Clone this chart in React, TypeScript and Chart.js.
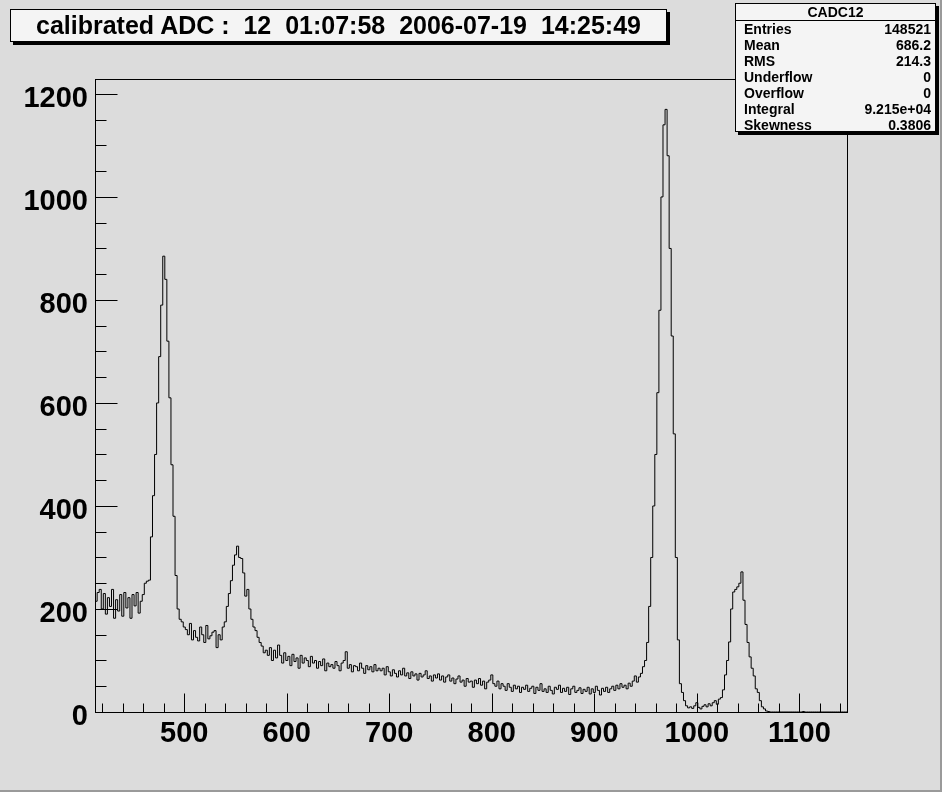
import React, { useEffect, useRef } from 'react';
import { Chart, registerables } from 'chart.js';

Chart.register(...registerables);

// ---- histogram binning (ADC channel) ----
const BIN_START = 413;
const BIN_WIDTH = 2;

// ---- bin contents (segments from low to high ADC) ----
const noiseLow = [215, 232, 238, 200, 230, 190, 222, 205, 238, 182, 218, 196, 228, 186, 232, 202, 222, 182, 228, 206, 232, 192, 215, 228];
const peak1 = [250, 254, 256, 340, 420, 500, 600, 690, 790, 885, 840, 720, 610, 480, 380, 265, 200, 180, 175, 165];
const valley1 = [160, 150, 172, 140, 158, 145, 138, 165, 150, 135, 168, 142, 148, 155, 158, 125, 150, 140, 165, 175];
const peak2 = [205, 230, 255, 285, 305, 322, 300, 298, 270, 225, 238, 200, 180, 165, 158, 145, 135, 128, 115, 120];
const tailA = [110, 125, 100, 120, 105, 130, 110, 95, 115, 100, 108, 90, 112, 98, 105, 85, 110, 95, 105, 100, 88, 108];
const tailB = [95, 100, 85, 98, 90, 103, 80, 95, 88, 92, 85, 98, 90, 80, 95, 100, 117, 85, 92, 78, 90, 88, 80, 95, 85, 75, 90, 82, 88, 78, 92, 80, 85];
const tailC = [80, 85, 72, 88, 78, 70, 82, 75, 68, 80, 72, 85, 70, 76, 65, 78, 70, 74, 62, 75, 68, 72, 80, 65, 70, 60, 72, 66, 74, 62, 70, 58, 68, 72, 60, 66, 55, 64, 70, 58, 62, 50, 65, 58, 60, 48, 62, 55, 65];
const tailD = [52, 60, 45, 58, 62, 72, 55, 50, 60, 45, 55];
const tailE = [50, 42, 55, 48, 40, 52, 45, 50, 38, 48, 44, 52, 40, 46, 50, 36, 48, 42, 55, 40, 45, 38, 50, 42, 35, 48, 44, 52, 38, 46, 40, 48, 34, 45, 50, 38, 42, 47, 36, 44, 40, 48, 35, 45, 38, 50, 42, 33, 46, 40, 48, 38, 45, 50, 42, 52, 45, 55, 48, 52, 45, 56, 50, 60];
const peak3 = [70, 58, 68, 75, 88, 100, 135, 205, 300, 400, 500, 620, 780, 1000, 1140, 1170, 1080, 900, 730, 540, 300, 140, 55, 38, 22];
const valley2 = [12, 8, 10, 7, 12, 18, 9, 6, 11, 14, 10, 16, 12, 18, 22, 15, 25];
const peak4 = [28, 43, 72, 100, 136, 200, 233, 238, 243, 250, 272, 217, 170, 135, 107, 85, 70, 45, 38, 22, 10, 6, 2, 1];
const tailHigh = [0, 0, 0, 0, 0, 0, 0, 0, 0, 0, 0, 0, 0, 0, 0, 0, 1, 0, 0, 0, 0, 0, 0, 0, 0, 0, 0, 0, 0, 0, 0, 0, 0, 0, 0, 0, 0, 0];

const counts = [
  ...noiseLow, ...peak1, ...valley1, ...peak2, ...tailA, ...tailB, ...tailC,
  ...tailD, ...tailE, ...peak3, ...valley2, ...peak4, ...tailHigh,
];

// ---- axes ----
const X_MIN = 412.9;
const X_MAX = 1146.5;
const Y_MIN = 0;
const Y_MAX = 1229;
const xMajorTicks = [500, 600, 700, 800, 900, 1000, 1100];
const yMajorTicks = [0, 200, 400, 600, 800, 1000, 1200];
const X_MINOR_START = 420;
const X_MINOR_STEP = 20;
const Y_MINOR_STEP = 50;

// ---- texts ----
const titleText = 'calibrated ADC :  12  01:07:58  2006-07-19  14:25:49';
const statsName = 'CADC12';
const statsLabels = ['Entries', 'Mean', 'RMS', 'Underflow', 'Overflow', 'Integral', 'Skewness'];
const statsValues = ['148521', '686.2', '214.3', '0', '0', '9.215e+04', '0.3806'];

const BG = '#dcdcdc';
const BOX_BG = '#f4f4f4';
const FONT = "'Liberation Sans', Arial, Helvetica, sans-serif";

const rootFrame = {
  id: 'rootFrame',
  beforeDraw(chart: any) {
    const ctx = chart.ctx;
    ctx.save();
    ctx.fillStyle = BG;
    ctx.fillRect(0, 0, chart.width, chart.height);
    ctx.fillStyle = '#9a9a9a';
    ctx.fillRect(0, chart.height - 2, chart.width, 2);
    ctx.fillRect(chart.width - 2, 0, 2, chart.height);
    ctx.restore();
  },
  afterDraw(chart: any) {
    const { ctx, chartArea: a, scales } = chart;
    const xs = scales.x;
    const ys = scales.y;
    ctx.save();
    ctx.strokeStyle = '#000';
    ctx.lineWidth = 1;
    const l = Math.round(a.left) + 0.5;
    const t = Math.round(a.top) + 0.5;
    const r = Math.round(a.right) + 0.5;
    const b = Math.round(a.bottom) + 0.5;
    ctx.strokeRect(l, t, r - l, b - t);
    ctx.beginPath();
    for (let v = Y_MIN; v <= Y_MAX; v += Y_MINOR_STEP) {
      const py = Math.round(ys.getPixelForValue(v)) + 0.5;
      const len = yMajorTicks.includes(v) ? 22 : 11;
      ctx.moveTo(l, py);
      ctx.lineTo(l + len, py);
    }
    for (let v = X_MINOR_START; v <= X_MAX; v += X_MINOR_STEP) {
      const px = Math.round(xs.getPixelForValue(v)) + 0.5;
      const len = xMajorTicks.includes(v) ? 19 : 9;
      ctx.moveTo(px, b);
      ctx.lineTo(px, b - len);
    }
    ctx.stroke();
    ctx.restore();
  },
};

export default function App() {
  const ref = useRef<HTMLCanvasElement | null>(null);

  useEffect(() => {
    if (!ref.current) return;
    const points = counts.map((c, i) => ({ x: BIN_START + i * BIN_WIDTH, y: c }));
    points.push({ x: BIN_START + counts.length * BIN_WIDTH, y: counts[counts.length - 1] });

    const tickFont = { family: FONT, size: 29, weight: 'bold' as const };
    const chart = new Chart(ref.current, {
      type: 'line',
      data: {
        datasets: [
          {
            label: statsName,
            data: points,
            borderColor: '#000',
            borderWidth: 1,
            pointRadius: 0,
            fill: false,
            stepped: true,
            tension: 0,
          },
        ],
      },
      options: {
        responsive: false,
        animation: false,
        devicePixelRatio: 1,
        layout: { padding: { top: 79, right: 95, left: 0, bottom: 0 } },
        plugins: { legend: { display: false }, title: { display: false }, tooltip: { enabled: false } },
        scales: {
          x: {
            type: 'linear',
            min: X_MIN,
            max: X_MAX,
            grid: { display: false, drawTicks: false },
            border: { display: false },
            afterBuildTicks: (s: any) => { s.ticks = xMajorTicks.map((v) => ({ value: v })); },
            afterFit: (s: any) => { s.height = 80; s.paddingLeft = 0; s.paddingRight = 0; s.paddingTop = 0; s.paddingBottom = 0; },
            ticks: {
              font: tickFont,
              color: '#000',
              padding: 5,
              maxRotation: 0,
              autoSkip: false,
              callback: (v: any) => String(v),
            },
          },
          y: {
            type: 'linear',
            min: Y_MIN,
            max: Y_MAX,
            grid: { display: false, drawTicks: false },
            border: { display: false },
            afterBuildTicks: (s: any) => { s.ticks = yMajorTicks.map((v) => ({ value: v })); },
            afterFit: (s: any) => { s.width = 95; s.paddingLeft = 0; s.paddingRight = 0; s.paddingTop = 0; s.paddingBottom = 0; },
            ticks: {
              font: tickFont,
              color: '#000',
              padding: 7,
              labelOffset: 5,
              autoSkip: false,
              callback: (v: any) => String(v),
            },
          },
        },
      },
      plugins: [rootFrame],
    });
    return () => chart.destroy();
  }, []);

  return (
    <div style={{ position: 'absolute', left: 0, top: 0, width: 942, height: 792, background: BG }}>
      <canvas ref={ref} width={942} height={792} style={{ display: 'block', width: 942, height: 792 }} />
      <div
        style={{
          position: 'absolute', left: 10, top: 9, width: 657, height: 33, boxSizing: 'border-box',
          border: '1px solid #000', background: BOX_BG, boxShadow: '3px 3px 0 #000',
          font: `bold 25px ${FONT}`, lineHeight: '31px', textAlign: 'center', whiteSpace: 'pre', color: '#000',
        }}
      >
        {titleText}
      </div>
      <div
        style={{
          position: 'absolute', left: 735, top: 3, width: 201, height: 129, boxSizing: 'border-box',
          border: '1px solid #000', background: BOX_BG, boxShadow: '3px 3px 0 #000',
          font: `bold 14px ${FONT}`, color: '#000',
        }}
      >
        <div style={{ height: 16, lineHeight: '16px', textAlign: 'center', borderBottom: '1px solid #000' }}>{statsName}</div>
        {statsLabels.map((lab, i) => (
          <div key={lab} style={{ display: 'flex', justifyContent: 'space-between', height: 16, lineHeight: '16px', padding: '0 4px 0 8px' }}>
            <span>{lab}</span>
            <span>{statsValues[i]}</span>
          </div>
        ))}
      </div>
    </div>
  );
}
